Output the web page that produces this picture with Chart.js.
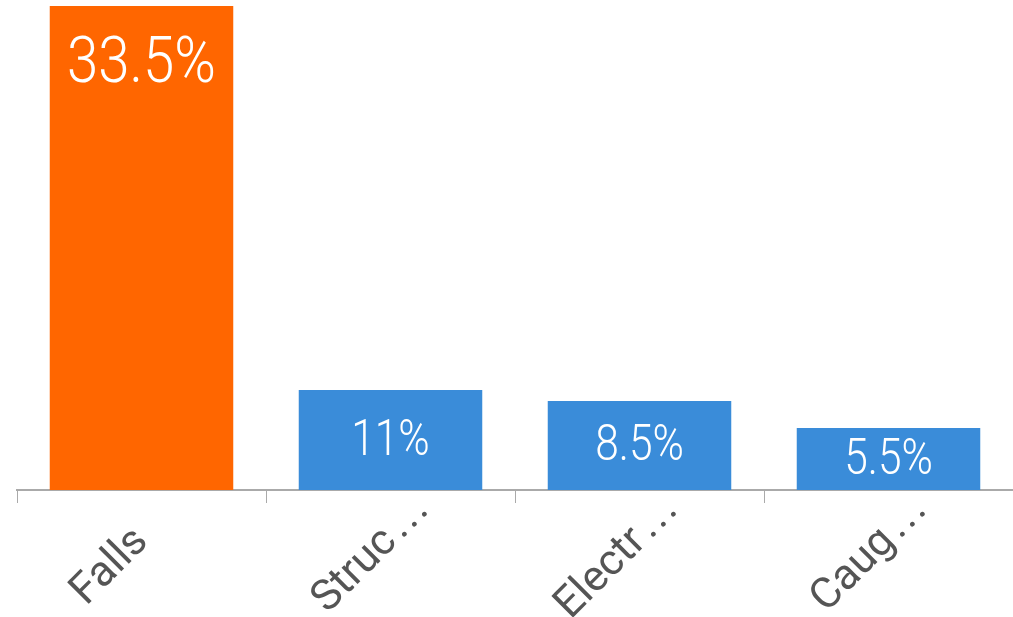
<!DOCTYPE html>
<html>
<head>
<meta charset="utf-8">
<script src="https://cdn.jsdelivr.net/npm/chart.js@4"></script>
<style>
  html, body { margin: 0; padding: 0; background: #fff; }
  #wrap { width: 1013px; height: 617px; }
</style>
</head>
<body>
<div id="wrap"><canvas id="chartBar"></canvas></div>
<script>
'use strict';

// categories as shown (truncated in the picture)
var categories = ['Falls', 'Struc\u2026', 'Electr\u2026', 'Caug\u2026'];
// bar heights (Falls runs past the top)
var barValues = [48.4, 10.0, 8.9, 6.2];
// texts printed on the bars
var barLabels = ['33.5%', '11%', '8.5%', '5.5%'];
var barColors = ['#ff6600', '#3a8cd9', '#3a8cd9', '#3a8cd9'];

// white percentage text inside each bar
var barText = {
    id: 'barText',
    afterDatasetsDraw: function(chart) {
        var ctx = chart.ctx;
        var meta = chart.getDatasetMeta(0);
        ctx.save();
        ctx.fillStyle = '#ffffff';
        ctx.textAlign = 'center';
        ctx.textBaseline = 'middle';
        meta.data.forEach(function(bar, i) {
            var size = i === 0 ? 64 : 50;
            var y = Math.min((bar.y + bar.base) / 2, bar.y + 58);
            ctx.save();
            ctx.translate(bar.x, y);
            ctx.scale(i === 0 ? 0.88 : 0.85, 1);
            ctx.font = '300 ' + size + 'px Roboto';
            ctx.fillText(barLabels[i], 0, 2);
            ctx.restore();
        });
        ctx.restore();
    }
};

// slanted category names, with the wide spaced ellipsis of the original
var slantLabels = {
    id: 'slantLabels',
    afterDraw: function(chart) {
        var ctx = chart.ctx;
        var xs = chart.scales.x;
        ctx.save();
        ctx.fillStyle = '#555555';
        ctx.font = '43px Roboto';
        ctx.textBaseline = 'alphabetic';
        xs.ticks.forEach(function(t, i) {
            var label = xs.getLabelForValue(t.value);
            var cut = label.slice(-1) === '\u2026';
            var name = cut ? label.slice(0, -1) : label;
            var cx = xs.getPixelForTick(i);
            ctx.save();
            ctx.translate(cx + 8, xs.top + 53);
            ctx.rotate(-Math.PI / 4);
            ctx.textAlign = 'right';
            ctx.fillText(name, 0, 0);
            if (cut) {
                ctx.textAlign = 'center';
                [10.6, 24.7, 38.9].forEach(function(d) {
                    ctx.fillText('.', d, 0);
                });
            }
            ctx.restore();
        });
        ctx.restore();
    }
};

var ctxbar = document.getElementById('chartBar');
var myBarChart = new Chart(ctxbar, {
    type: 'bar',
    data: {
        labels: categories,
        datasets: [{
            data: barValues,
            backgroundColor: barColors,
            categoryPercentage: 1,
            barPercentage: 0.737
        }]
    },
    options: {
        responsive: true,
        maintainAspectRatio: false,
        animation: false,
        layout: {
            padding: { left: 17, right: -3, top: 6, bottom: 0 }
        },
        plugins: {
            legend: { display: false },
            tooltip: { enabled: false }
        },
        scales: {
            y: {
                display: false,
                min: 0,
                max: 48.4
            },
            x: {
                border: { display: true, color: '#aaaaaa', width: 2 },
                grid: {
                    drawOnChartArea: false,
                    drawTicks: true,
                    tickLength: 13,
                    color: '#aaaaaa',
                    offset: true
                },
                ticks: {
                    display: false,
                    autoSkip: false
                },
                afterFit: function(axis) {
                    axis.height = 127;
                    axis.paddingLeft = 0;
                    axis.paddingRight = 0;
                }
            }
        }
    },
    plugins: [barText, slantLabels]
});
</script>
</body>
</html>
